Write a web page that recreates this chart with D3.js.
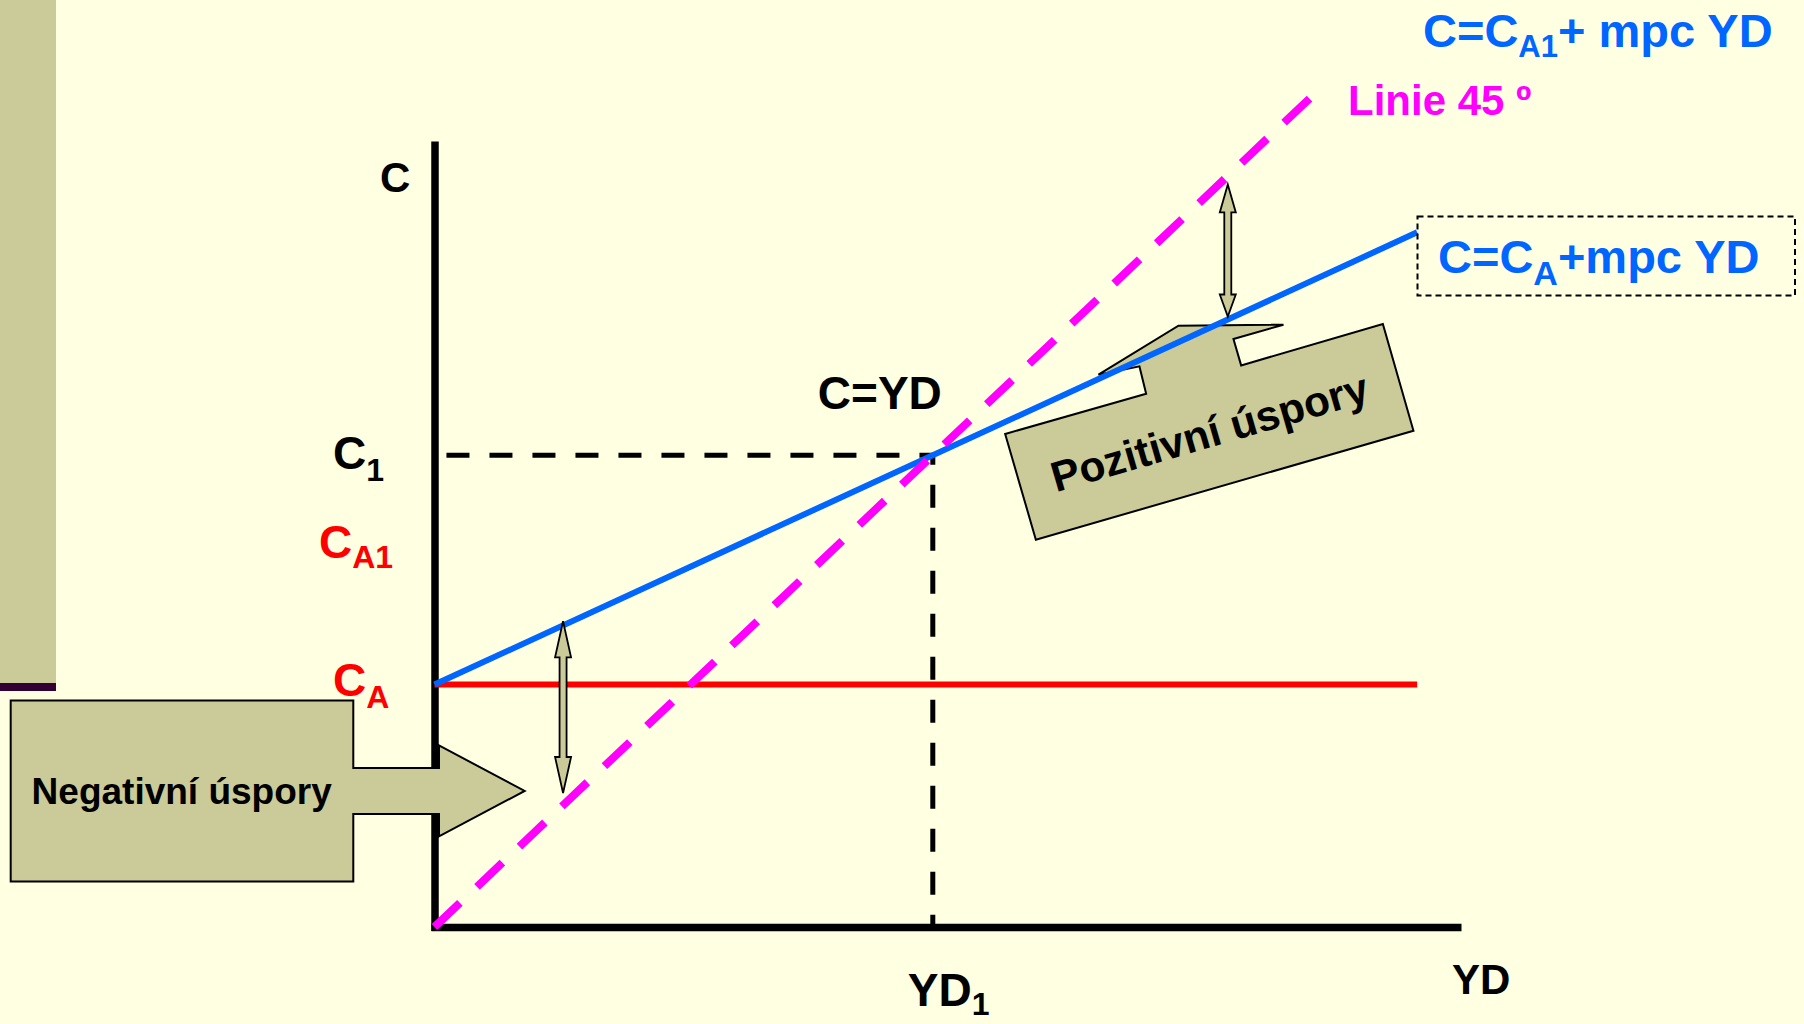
<!DOCTYPE html>
<html>
<head>
<meta charset="utf-8">
<script src="https://cdn.jsdelivr.net/npm/d3@7"></script>
<style>
  html, body { margin: 0; padding: 0; background: #FFFFE1; }
  svg { display: block; }
  text { font-family: "Liberation Sans", Arial, Helvetica, sans-serif; font-weight: bold; }
</style>
</head>
<body>
<svg id="chart" width="1804" height="1024"></svg>
<script>
// Consumption function C = CA + mpc·YD compared with the 45° line C = YD
const autonomousC   = [2.57];          // CA
const mpc           = [0.486];         // marginal propensity to consume
const shiftedC      = [4.06];          // CA1 (level marked on the C axis)
const consumptionYD = [0, 9.86];       // YD range of the consumption and CA lines
const line45YD      = [0, 8.79];       // YD range of the 45° line
const equilibrium   = [5, 5];          // [YD1, C1] where C = YD
const gapArrowYD    = [1.29, 7.96];    // positions of the saving gap arrows
const gapArrowC     = [[1.42, 3.24], [6.47, 7.87]];
const axisDomainYD  = [0, 10.3];
const axisDomainC   = [0, 8.33];

const W = 1804, H = 1024;
const svg = d3.select("#chart");

const x = d3.scaleLinear().domain(axisDomainYD).range([434.5, 1461]);
const y = d3.scaleLinear().domain(axisDomainC).range([927, 141]);

const consumption = yd => autonomousC[0] + mpc[0] * yd;
const line = d3.line().x(d => x(d[0])).y(d => y(d[1]));

// slide decoration on the left edge
svg.append("rect").attr("x", 0).attr("y", 0).attr("width", 56).attr("height", 683).attr("fill", "#CBCB99");
svg.append("rect").attr("x", 0).attr("y", 683).attr("width", 56).attr("height", 8).attr("fill", "#330033");

// axes: plain heavy lines, no ticks
const axisX = d3.axisBottom(x.copy().range([431, 1461])).tickValues([]).tickSizeOuter(0);
const axisY = d3.axisLeft(y.copy().range([930.5, 141])).tickValues([]).tickSizeOuter(0);
const gx = svg.append("g").attr("transform", `translate(0,${y(0)})`).call(axisX);
const gy = svg.append("g").attr("transform", `translate(${x(0)},0)`).call(axisY);
[gx, gy].forEach(g => g.select(".domain").attr("stroke", "#000").attr("stroke-width", 7.5));

// callout: negative saving (arrow pointing right at the C axis)
const negTip = [x(0.905), y(1.442)];
const negShape = [[-514, -90.5], [-171.4, -90.5], [-171.4, -23], [-85.7, -23], [-85.7, -45.5], [0, 0],
                  [-85.7, 45.5], [-85.7, 23], [-171.4, 23], [-171.4, 90.5], [-514, 90.5]];
svg.append("polygon")
  .attr("points", negShape.map(p => [negTip[0] + p[0], negTip[1] + p[1]].join(",")).join(" "))
  .attr("fill", "#CBCB99").attr("stroke", "#000").attr("stroke-width", 2);
svg.append("text")
  .attr("x", negTip[0] - 343).attr("y", negTip[1] + 13.5)
  .attr("text-anchor", "middle").attr("font-size", 37).attr("fill", "#000")
  .text("Negativní úspory");

// callout: positive saving (tilted, pointing up at the consumption line)
const posCenter = [x(7.775), y(5.245)];
const posShape = [[-204.2, 1.9], [-63.2, -38.4], [-69.9, -65.7], [-110.9, -57.4], [-30.9, -106.4],
                  [74.1, -107.4], [24.1, -93.1], [31.8, -66.7], [173.5, -108.1], [204.1, -1.4],
                  [-173.5, 107.6]];
svg.append("polygon")
  .attr("points", posShape.map(p => [posCenter[0] + p[0], posCenter[1] + p[1]].join(",")).join(" "))
  .attr("fill", "#CBCB99").attr("stroke", "#000").attr("stroke-width", 2);
svg.append("text")
  .attr("transform", `translate(${posCenter[0]},${posCenter[1]}) rotate(-16.2)`)
  .attr("y", 15).attr("text-anchor", "middle").attr("font-size", 42.5).attr("fill", "#000")
  .text("Pozitivní úspory");

// autonomous consumption CA
svg.append("path")
  .attr("d", line(consumptionYD.map(v => [v, autonomousC[0]])))
  .attr("fill", "none").attr("stroke", "#FF0000").attr("stroke-width", 6);

// guide lines to the equilibrium point
svg.append("path")
  .attr("d", line([[0.12, equilibrium[1]], [equilibrium[0], equilibrium[1]], [equilibrium[0], 0]]))
  .attr("fill", "none").attr("stroke", "#000").attr("stroke-width", 5)
  .attr("stroke-dasharray", "23,20");

// consumption function
svg.append("path")
  .attr("d", line(consumptionYD.map(v => [v, consumption(v)])))
  .attr("fill", "none").attr("stroke", "#0066FF").attr("stroke-width", 6);

// 45° line
svg.append("path")
  .attr("d", line(line45YD.map(v => [v, v])))
  .attr("fill", "none").attr("stroke", "#FF00FF").attr("stroke-width", 8)
  .attr("stroke-dasharray", "35,23.5");

// double-headed arrows marking the gap between C and YD
const heads = [[36, 36], [28, 22]];
gapArrowYD.forEach((v, i) => {
  const xc = x(v), yt = y(gapArrowC[i][1]), yb = y(gapArrowC[i][0]);
  const hw = 8, sw = 3.5, ht = heads[i][0], hb = heads[i][1];
  const pts = [[xc, yt], [xc + hw, yt + ht], [xc + sw, yt + ht], [xc + sw, yb - hb], [xc + hw, yb - hb],
               [xc, yb], [xc - hw, yb - hb], [xc - sw, yb - hb], [xc - sw, yt + ht], [xc - hw, yt + ht]];
  svg.append("polygon").attr("points", pts.map(p => p.join(",")).join(" "))
    .attr("fill", "#CBCB99").attr("stroke", "#000").attr("stroke-width", 1.8);
});

// labels with optional subscript
function label(px, py, size, color, parts) {
  const t = svg.append("text").attr("x", px).attr("y", py).attr("fill", color).attr("font-size", size);
  parts.forEach(p => {
    const s = t.append("tspan").text(p.text);
    if (p.sub) s.attr("font-size", p.sub.size).attr("dy", p.sub.dy);
    if (p.back) s.attr("dy", -p.back);
  });
  return t;
}

label(380, 192, 42, "#000", [{ text: "C" }]);
label(1452, 994, 42, "#000", [{ text: "YD" }]);
label(333, y(equilibrium[1]) + 14, 46, "#000", [{ text: "C" }, { text: "1", sub: { size: 32, dy: 12 } }]);
label(319, y(shiftedC[0]) + 14, 46, "#FF0000", [{ text: "C" }, { text: "A1", sub: { size: 32, dy: 10 } }]);
label(333, y(autonomousC[0]) + 11, 46, "#FF0000", [{ text: "C" }, { text: "A", sub: { size: 32, dy: 12 } }]);
label(x(equilibrium[0]) - 115, y(equilibrium[1]) - 46, 46, "#000", [{ text: "C=YD" }]);
label(x(equilibrium[0]) - 25, 1006, 46, "#000", [{ text: "YD" }, { text: "1", sub: { size: 32, dy: 9 } }]);

label(1348, 115, 42, "#FF00FF", [{ text: "Linie 45 º" }]);
label(1423, 47, 47, "#0066FF", [{ text: "C=C" }, { text: "A1", sub: { size: 31, dy: 10 } }, { text: "+ mpc YD", back: 10 }]);

// boxed label of the consumption function
svg.append("rect").attr("x", 1417.5).attr("y", 216.5).attr("width", 377.5).attr("height", 79)
  .attr("fill", "none").attr("stroke", "#000").attr("stroke-width", 2).attr("stroke-dasharray", "6,4");
label(1438, 273, 47, "#0066FF", [{ text: "C=C" }, { text: "A", sub: { size: 34, dy: 12 } }, { text: "+mpc YD", back: 12 }]);
</script>
</body>
</html>
